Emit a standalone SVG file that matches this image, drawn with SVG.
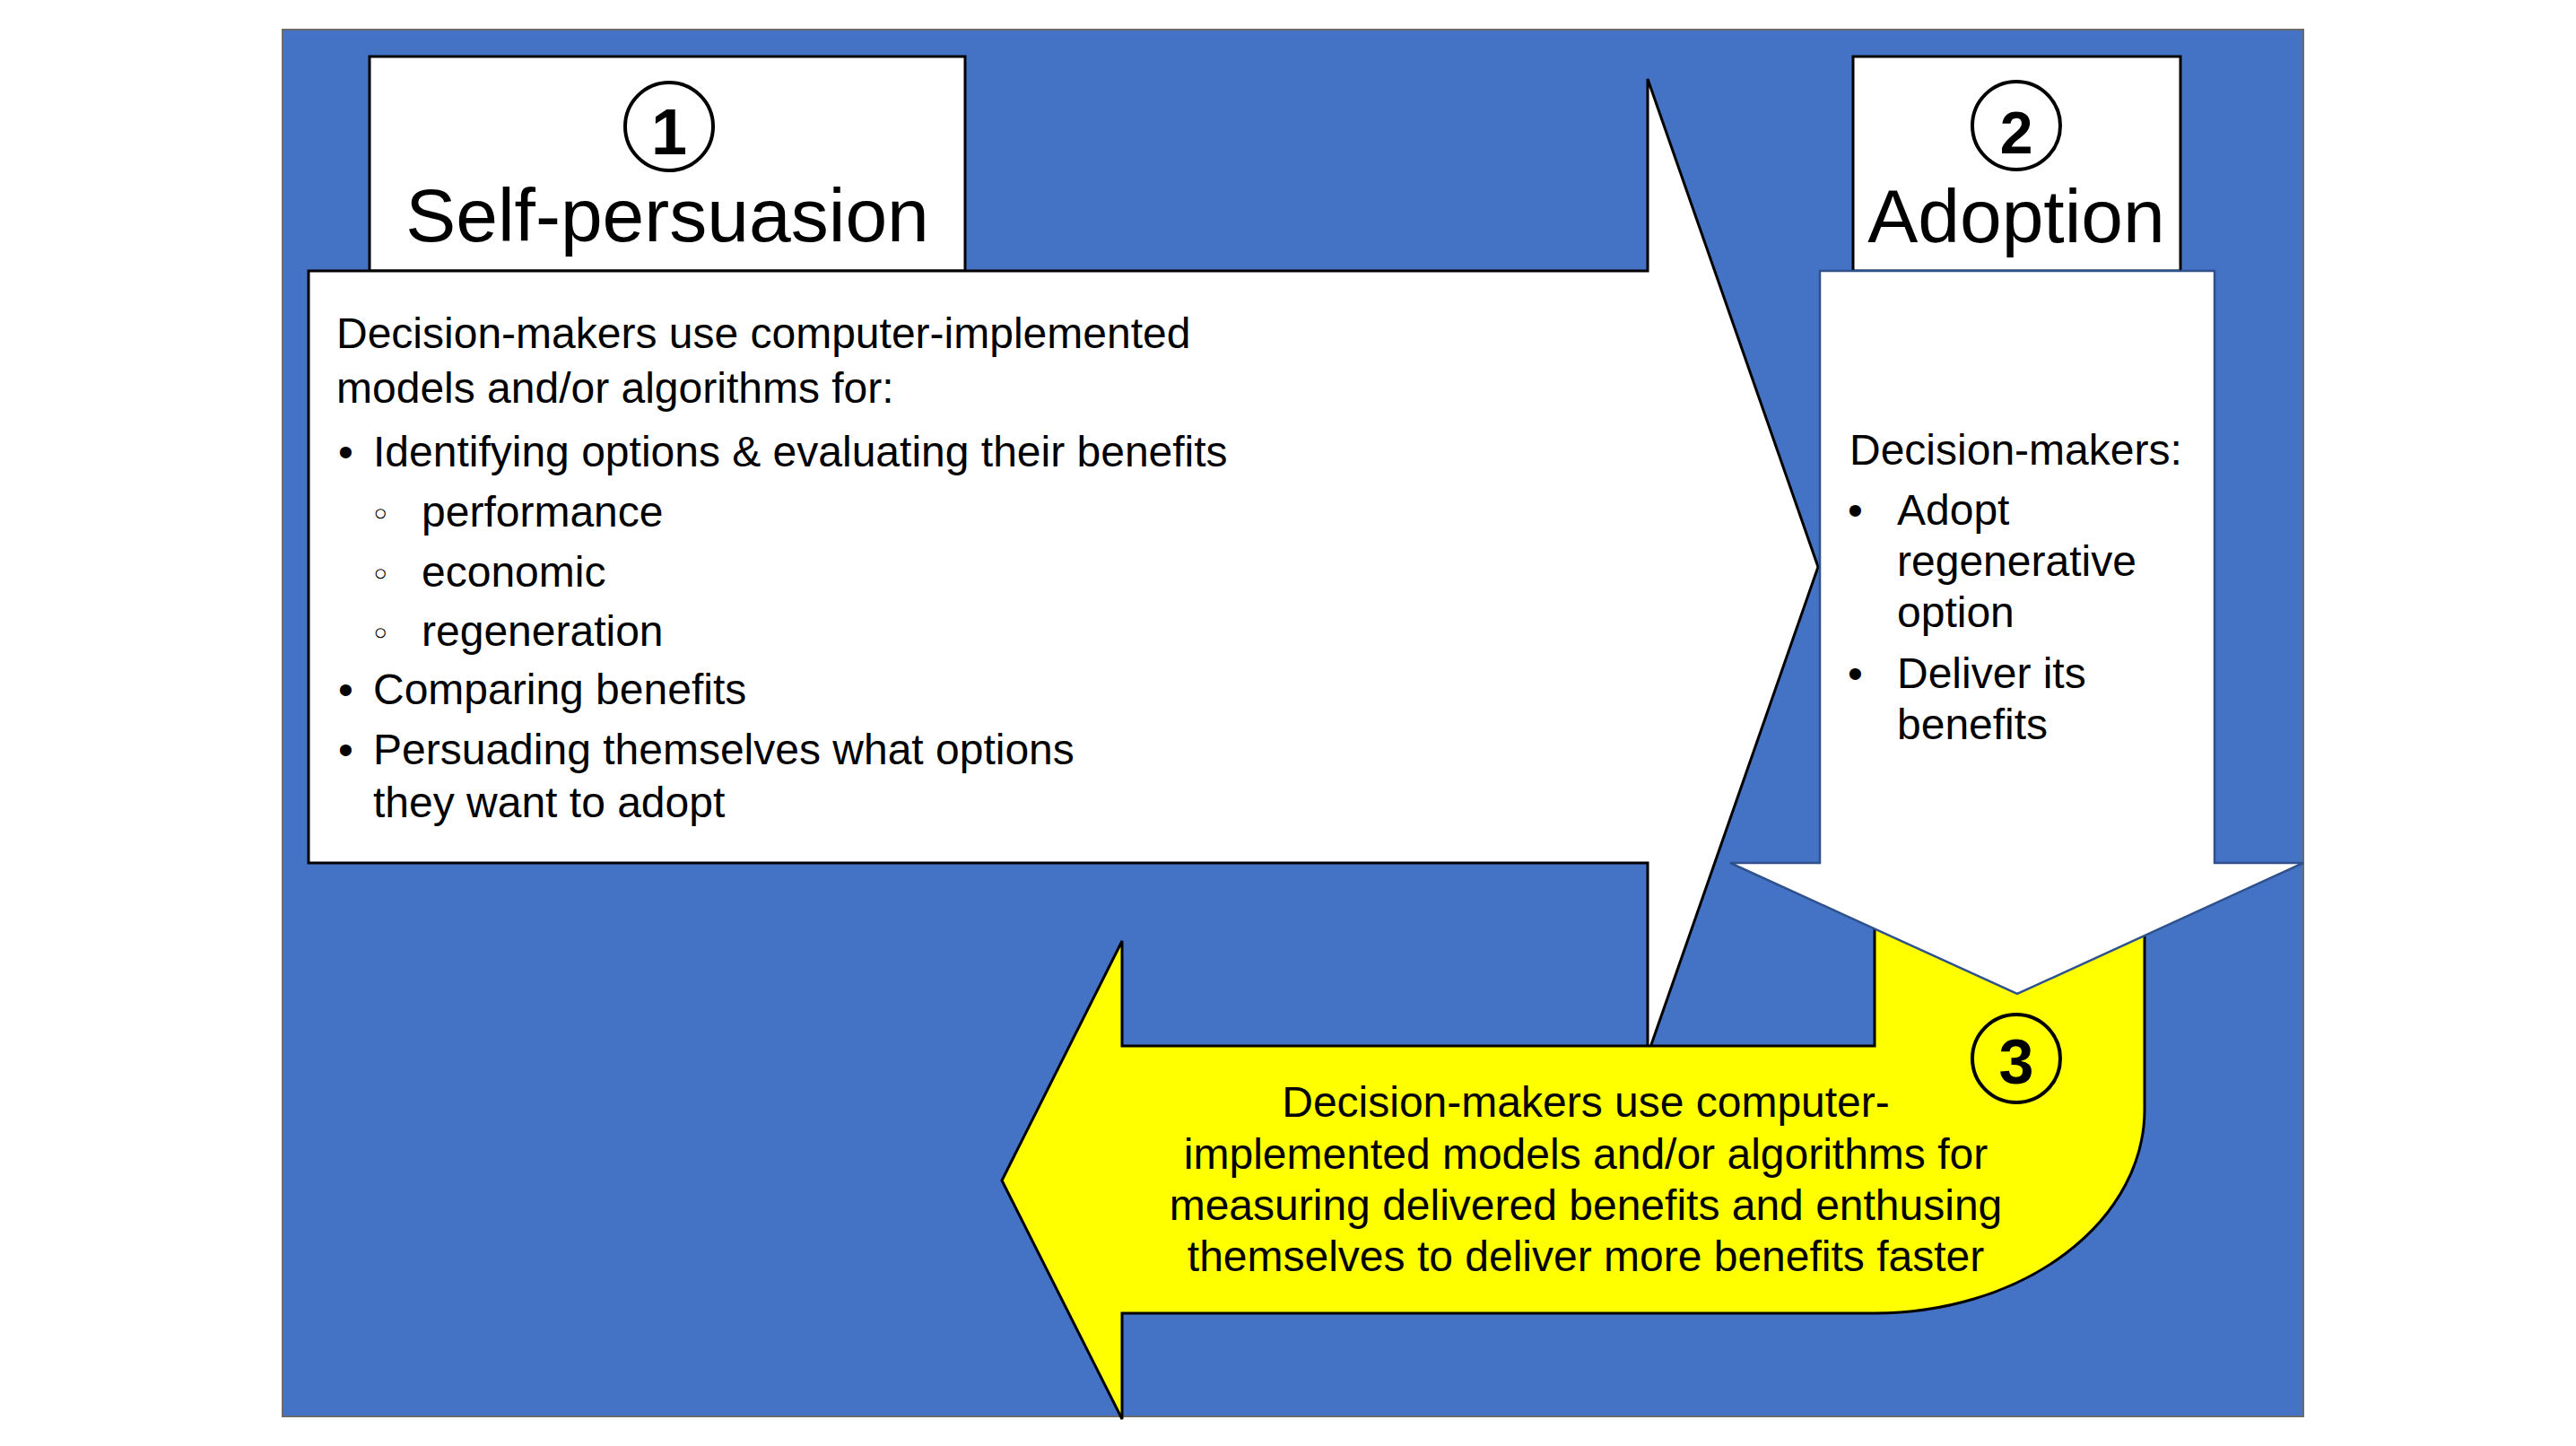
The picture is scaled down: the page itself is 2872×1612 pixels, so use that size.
<svg xmlns="http://www.w3.org/2000/svg" width="2872" height="1612" viewBox="0 0 2872 1612">
<style>
.t{font-family:"Liberation Sans",Arial,sans-serif;font-size:48px;fill:#000}
.title{font-family:"Liberation Sans",Arial,sans-serif;font-size:84px;fill:#000;text-anchor:middle}
.num{font-family:"Liberation Sans",Arial,sans-serif;font-weight:bold;fill:#000;text-anchor:middle}
.sub{font-family:"DejaVu Sans",sans-serif;font-size:38px;fill:#000}
.c{text-anchor:middle}
.box{fill:#fff;stroke:#000;stroke-width:3}
.circ{stroke:#000;stroke-width:4}
</style>
<rect x="315" y="33" width="2253" height="1546" fill="#4472C4" stroke="#6b6b6b" stroke-width="2"/>
<g id="title1">
<rect class="box" x="412" y="63" width="664" height="239"/>
<circle class="circ" cx="746" cy="141" r="49" fill="#fff"/>
<text class="num" x="746" y="172" font-size="72">1</text>
<text class="title" x="744" y="269">Self-persuasion</text>
</g>
<g id="title2">
<rect class="box" x="2066" y="63" width="365" height="239"/>
<circle class="circ" cx="2248" cy="140" r="49" fill="#fff"/>
<text class="num" x="2248" y="171" font-size="66">2</text>
<text class="title" x="2248" y="270">Adoption</text>
</g>
<g id="connectors">
<path id="arrow-right" d="M344,302 L1837,302 L1837,88 L2027,632 L1837,1176 L1837,962 L344,962 Z" fill="#fff" stroke="#000" stroke-width="3" stroke-linejoin="miter"/>
<path id="arrow-uturn" d="M1117,1316 L1251,1049 L1251,1166 L2090,1166 L2090,1000 L2391,1000 L2391,1237 A301,227 0 0 1 2090,1464 L1251,1464 L1251,1582 Z" fill="#FFFF00" stroke="#000" stroke-width="3"/>
<path id="arrow-down" d="M2029,302 L2469,302 L2469,962 L2568,962 L2249,1108 L1929,962 L2029,962 Z" fill="#fff" stroke="#2F528F" stroke-width="2.5"/>
</g>
<g id="step1-text">
<text class="t" x="375" y="388">Decision-makers use computer-implemented</text>
<text class="t" x="375" y="449">models and/or algorithms for:</text>
<text class="t" x="377" y="520">•</text>
<text class="t" x="416" y="520">Identifying options &amp; evaluating their benefits</text>
<text class="sub" x="413" y="587">◦</text>
<text class="t" x="470" y="587">performance</text>
<text class="sub" x="413" y="654">◦</text>
<text class="t" x="470" y="654">economic</text>
<text class="sub" x="413" y="720">◦</text>
<text class="t" x="470" y="720">regeneration</text>
<text class="t" x="377" y="785">•</text>
<text class="t" x="416" y="785">Comparing benefits</text>
<text class="t" x="377" y="852">•</text>
<text class="t" x="416" y="852">Persuading themselves what options</text>
<text class="t" x="416" y="911">they want to adopt</text>
</g>
<g id="step2-text">
<text class="t" x="2062" y="518">Decision-makers:</text>
<text class="t" x="2060" y="585">•</text>
<text class="t" x="2115" y="585">Adopt</text>
<text class="t" x="2115" y="642">regenerative</text>
<text class="t" x="2115" y="699">option</text>
<text class="t" x="2060" y="767">•</text>
<text class="t" x="2115" y="767">Deliver its</text>
<text class="t" x="2115" y="824">benefits</text>
</g>
<g id="step3">
<circle class="circ" cx="2248" cy="1180" r="49" fill="none"/>
<text class="num" x="2248" y="1208" font-size="70">3</text>
<text class="t c" x="1768" y="1245">Decision-makers use computer-</text>
<text class="t c" x="1768" y="1303">implemented models and/or algorithms for</text>
<text class="t c" x="1768" y="1360">measuring delivered benefits and enthusing</text>
<text class="t c" x="1768" y="1417">themselves to deliver more benefits faster</text>
</g>
</svg>
